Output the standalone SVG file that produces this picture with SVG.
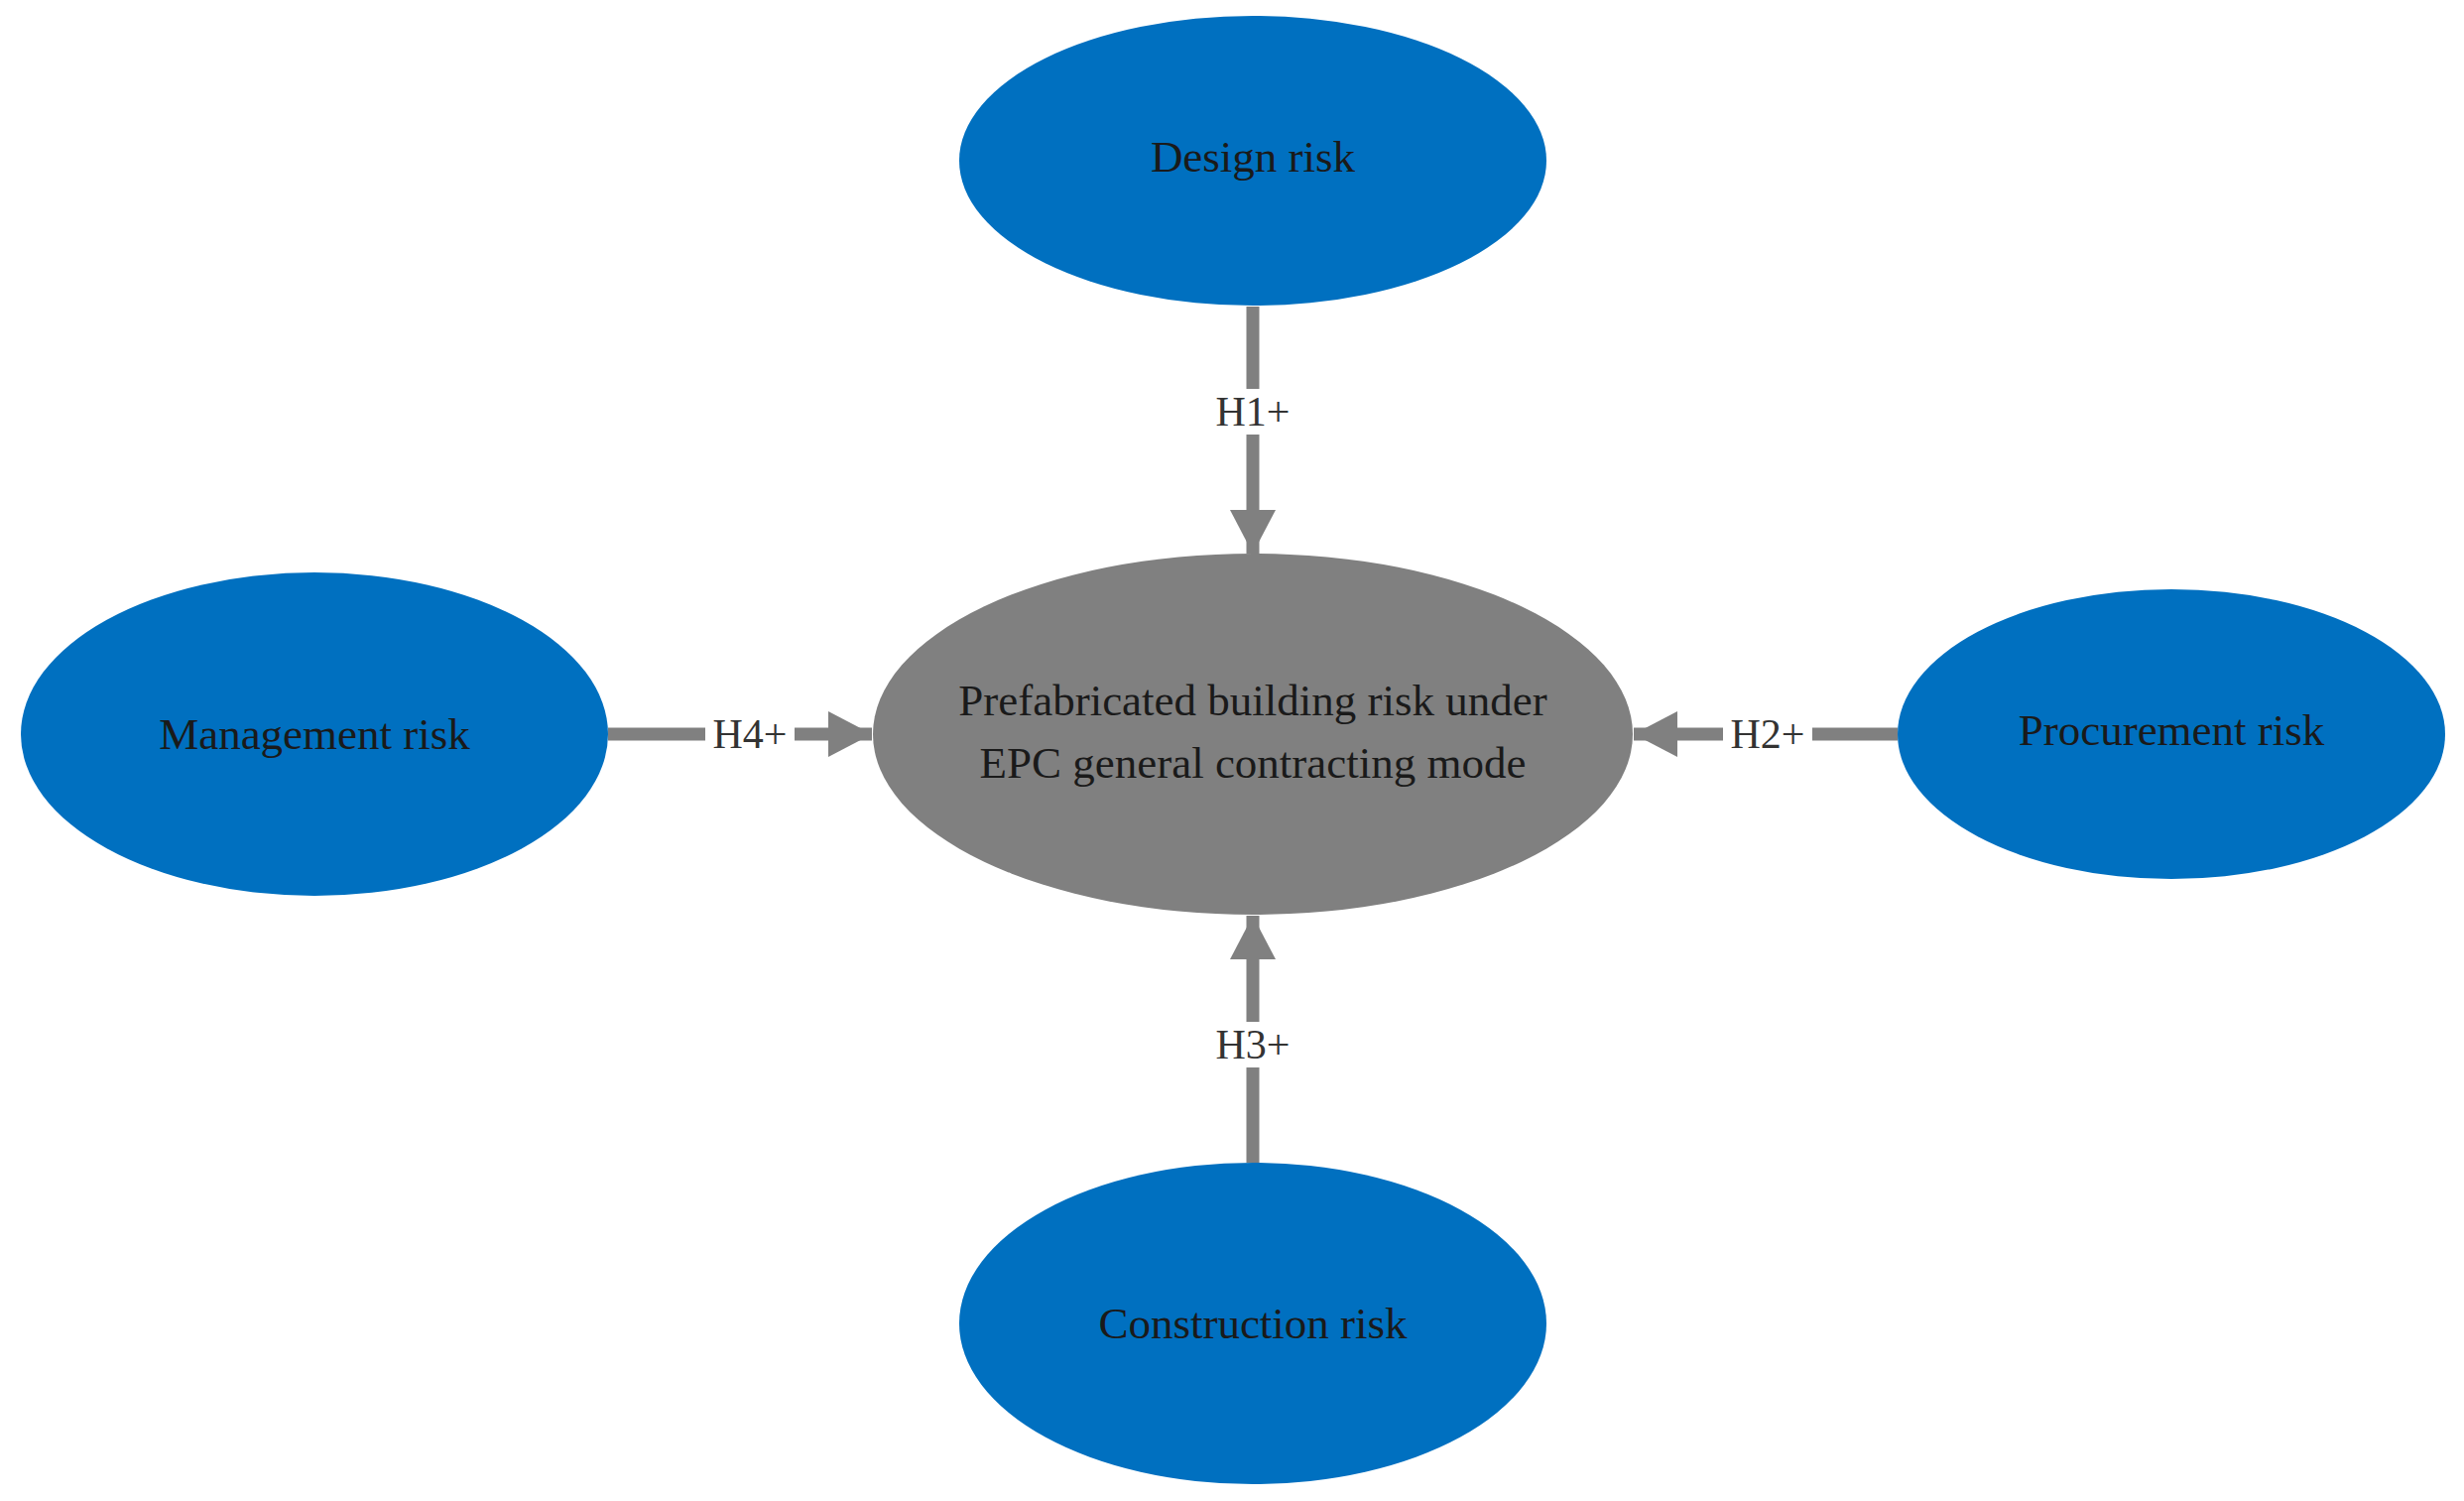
<svg xmlns="http://www.w3.org/2000/svg" width="2484" height="1513" viewBox="0 0 2484 1513">
<style>
.b{fill:#0070C0}
.t{font-family:"Liberation Serif",serif;font-size:45px;fill:#1a1a1a;text-anchor:middle;dominant-baseline:central}
.l{font-family:"Liberation Serif",serif;font-size:42px;fill:#333;text-anchor:middle;dominant-baseline:central}
.c{stroke:#808080;stroke-width:13;fill:none}
</style>
<defs>
<marker id="a" markerUnits="userSpaceOnUse" markerWidth="46" markerHeight="46" refX="44" refY="23" orient="auto">
<path d="M0,0 L44,23 L0,46 Z" fill="#808080"/>
</marker>
</defs>
<rect width="2484" height="1513" fill="#fff"/>
<g id="connectors">
<line class="c" x1="1263" y1="309" x2="1263" y2="558" marker-end="url(#a)"/>
<line class="c" x1="613" y1="740" x2="879" y2="740" marker-end="url(#a)"/>
<line class="c" x1="1913" y1="740" x2="1647" y2="740" marker-end="url(#a)"/>
<line class="c" x1="1263" y1="1172" x2="1263" y2="923" marker-end="url(#a)"/>
<rect x="1218" y="392" width="90" height="46" fill="#fff"/><text class="l" x="1263" y="415">H1+</text>
<rect x="711" y="717" width="90" height="46" fill="#fff"/><text class="l" x="756" y="740">H4+</text>
<rect x="1737" y="717" width="90" height="46" fill="#fff"/><text class="l" x="1782" y="740">H2+</text>
<rect x="1218" y="1030" width="90" height="46" fill="#fff"/><text class="l" x="1263" y="1053">H3+</text>
</g>
<g id="center"><ellipse cx="1263" cy="740" rx="383" ry="182" fill="#808080"/>
<text class="t" x="1263" y="706">Prefabricated building risk under</text>
<text class="t" x="1263" y="769">EPC general contracting mode</text></g>
<g id="design"><ellipse class="b" cx="1263" cy="162" rx="296" ry="146"/><text class="t" x="1263" y="158">Design risk</text></g>
<g id="management"><ellipse class="b" cx="317" cy="740" rx="296" ry="163"/><text class="t" x="317" y="740">Management risk</text></g>
<g id="procurement"><ellipse class="b" cx="2189" cy="740" rx="276" ry="146"/><text class="t" x="2189" y="736">Procurement risk</text></g>
<g id="construction"><ellipse class="b" cx="1263" cy="1334" rx="296" ry="162"/><text class="t" x="1263" y="1334">Construction risk</text></g>
</svg>
